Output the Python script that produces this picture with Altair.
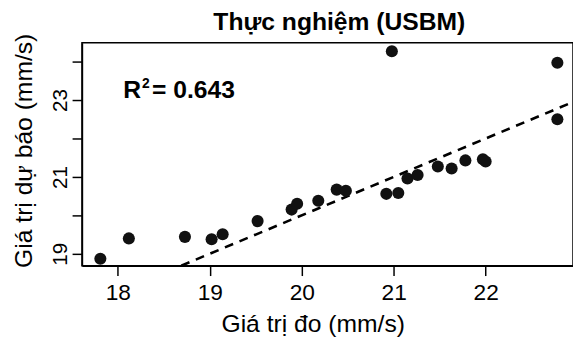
import altair as alt
import pandas as pd

measured = [17.81, 18.12, 18.73, 19.02, 19.14, 19.52, 19.89, 19.95, 20.18, 20.38,
            20.48, 20.92, 21.05, 21.15, 21.26, 21.48, 21.63, 21.78, 21.97, 22.00,
            20.98, 22.78, 22.78]
predicted = [18.87, 19.40, 19.44, 19.38, 19.51, 19.85, 20.15, 20.30, 20.38, 20.67,
             20.64, 20.56, 20.58, 20.96, 21.05, 21.27, 21.22, 21.43, 21.46, 21.40,
             24.27, 23.97, 22.50]
line_x = [18.69, 22.95]
line_y = [18.69, 22.95]
x_ticks = [18, 19, 20, 21, 22]
y_ticks = [19, 20, 21, 22, 23, 24]
title_text = ["Thực nghiệm (USBM)"]
r2_base = ["R"]
r2_sup = ["2"]
r2_value = ["= 0.643"]

df = pd.DataFrame({"measured": measured, "predicted": predicted})
df_line = pd.DataFrame({"measured": line_x, "predicted": line_y})

FONT = "Liberation Sans"
x_scale = alt.Scale(domain=[17.61, 22.95], nice=False, zero=False)
y_scale = alt.Scale(domain=[18.69, 24.49], nice=False, zero=False)

x_axis = alt.Axis(values=x_ticks, format="d", grid=False, tickSize=10, tickWidth=1.5,
                  labelFontSize=23, labelFont=FONT, labelColor="black", labelPadding=6,
                  title="Giá trị đo (mm/s)", titleFontSize=25, titleFont=FONT,
                  titleFontWeight="normal", titleColor="black", titleX=234, titleY=67,
                  titleBaseline="alphabetic", titleAlign="center")
y_axis = alt.Axis(values=y_ticks, format="d", grid=False, tickSize=10, tickWidth=1.5,
                  labelExpr="datum.value % 2 == 1 ? datum.label : ''",
                  labelAngle=270, labelAlign="center", labelBaseline="alphabetic",
                  labelFontSize=21, labelFont=FONT, labelColor="black", labelPadding=6,
                  title="Giá trị dự báo (mm/s)", titleFontSize=25, titleFont=FONT,
                  titleFontWeight="normal", titleColor="black", titleX=-51, titleY=109,
                  titleBaseline="alphabetic", titleAlign="center", titleAngle=270)

line = alt.Chart(df_line).mark_line(color="black", strokeDash=[9, 7], strokeWidth=2.6, clip=True).encode(
    x=alt.X("measured:Q", scale=x_scale, axis=x_axis),
    y=alt.Y("predicted:Q", scale=y_scale, axis=y_axis),
)
points = alt.Chart(df).mark_circle(size=150, color="#111111", opacity=1).encode(
    x=alt.X("measured:Q", scale=x_scale),
    y=alt.Y("predicted:Q", scale=y_scale),
)


def label(texts, x, y, size, align="left"):
    return alt.Chart(pd.DataFrame({"t": texts})).mark_text(
        font=FONT, fontSize=size, fontWeight="bold", align=align, baseline="alphabetic", color="black"
    ).encode(x=alt.value(x), y=alt.value(y), text="t:N")


title = label(title_text, 261, -13, 25, align="center")
r2a = label(r2_base, 42, 56, 25)
r2b = label(r2_sup, 61, 46, 14)
r2c = label(r2_value, 71, 56, 25)

chart = alt.layer(line, points, title, r2a, r2b, r2c).properties(
    width=498, height=226,
    autosize=alt.AutoSizeParams(type="none"),
    padding={"left": 75, "top": 33, "right": 0, "bottom": 71},
    background="white",
).configure_view(stroke="black", strokeWidth=1.5).configure_axis(
    domainColor="black", domainWidth=1.5, tickColor="black"
)

chart.save("out.html", embed_options={"renderer": "svg", "actions": False})
